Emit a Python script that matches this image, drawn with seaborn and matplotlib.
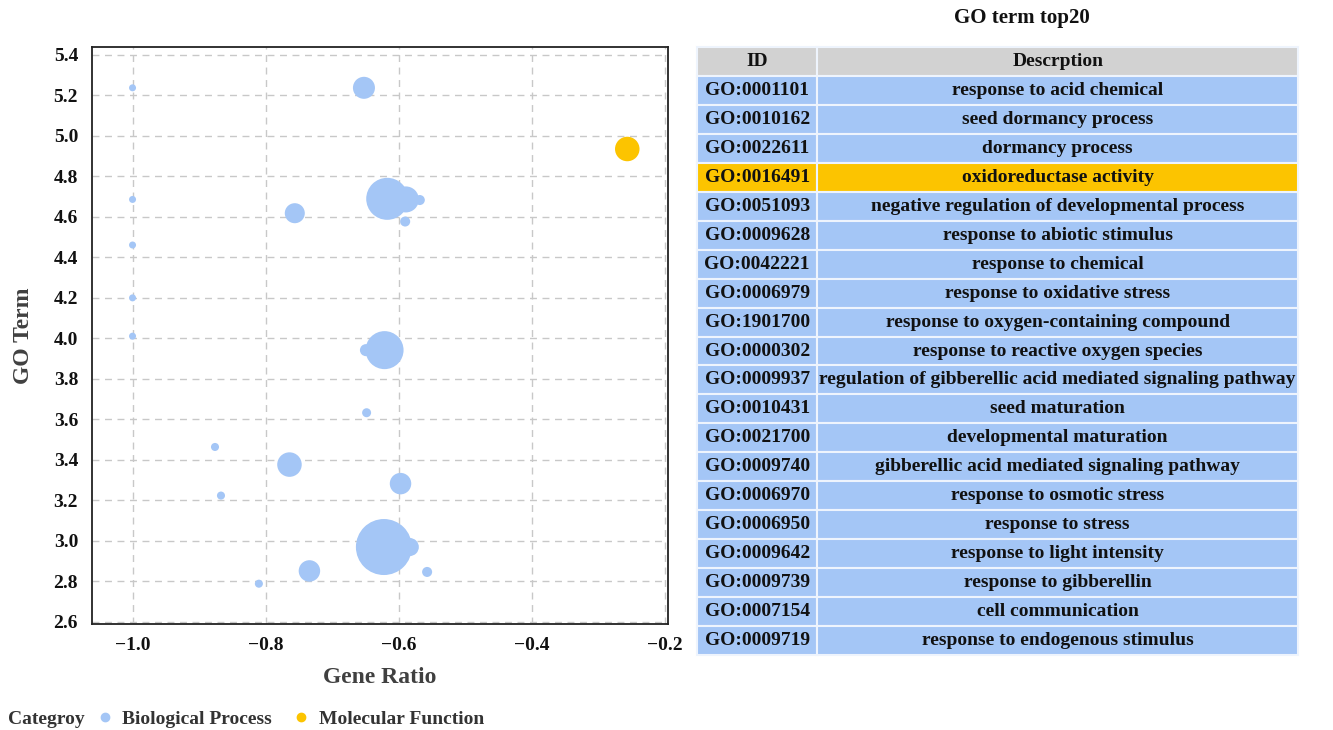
import matplotlib
matplotlib.use("Agg")
import matplotlib.pyplot as plt
from matplotlib.lines import Line2D
import seaborn as sns
import pandas as pd

# ---------------- data ----------------
gene_ratio = [-1.000, -0.652, -1.000, -0.756, -0.617, -0.589, -0.568, -0.590,
              -1.000, -1.000, -1.000, -0.621, -0.649, -0.648, -0.876, -0.764,
              -0.867, -0.597, -0.622, -0.583, -0.557, -0.734, -0.810, -0.256]
go_term = [5.237, 5.237, 4.686, 4.618, 4.689, 4.686, 4.683, 4.577,
           4.461, 4.200, 4.011, 3.942, 3.942, 3.633, 3.464, 3.377,
           3.224, 3.283, 2.970, 2.970, 2.847, 2.852, 2.789, 4.935]
count = [12, 121, 12, 100, 441, 169, 25, 25,
         12, 12, 12, 361, 36, 20, 16, 150,
         16, 115, 784, 81, 25, 115, 16, 150]
category = ["Biological Process"] * 23 + ["Molecular Function"]

table_ids = ["GO:0001101", "GO:0010162", "GO:0022611", "GO:0016491", "GO:0051093",
             "GO:0009628", "GO:0042221", "GO:0006979", "GO:1901700", "GO:0000302",
             "GO:0009937", "GO:0010431", "GO:0021700", "GO:0009740", "GO:0006970",
             "GO:0006950", "GO:0009642", "GO:0009739", "GO:0007154", "GO:0009719"]
table_desc = ["response to acid chemical", "seed dormancy process", "dormancy process",
              "oxidoreductase activity", "negative regulation of developmental process",
              "response to abiotic stimulus", "response to chemical",
              "response to oxidative stress", "response to oxygen-containing compound",
              "response to reactive oxygen species",
              "regulation of gibberellic acid mediated signaling pathway",
              "seed maturation", "developmental maturation",
              "gibberellic acid mediated signaling pathway", "response to osmotic stress",
              "response to stress", "response to light intensity",
              "response to gibberellin", "cell communication",
              "response to endogenous stimulus"]
table_cat = ["BP", "BP", "BP", "MF"] + ["BP"] * 16

x_ticks = [-1.0, -0.8, -0.6, -0.4, -0.2]
y_ticks = [2.6, 2.8, 3.0, 3.2, 3.4, 3.6, 3.8, 4.0, 4.2, 4.4, 4.6, 4.8, 5.0, 5.2, 5.4]

# ---------------- style ----------------
sns.set_style("white")
plt.rcParams["font.family"] = ["Liberation Serif", "DejaVu Serif"]
plt.rcParams["font.weight"] = "bold"
plt.rcParams["axes.labelweight"] = "bold"

BLUE = "#a4c6f6"
ORANGE = "#fcc400"
HEADER = "#d2d2d2"

df = pd.DataFrame({"Gene Ratio": gene_ratio, "GO Term": go_term,
                   "Count": count, "Category": category})

fig = plt.figure(figsize=(13.33, 7.30), dpi=100)
ax = fig.add_axes([0.069, 0.1452, 0.432, 0.790])

px2pt = 0.72
smin = (2 * 3.5 * px2pt) ** 2
smax = (2 * 28 * px2pt) ** 2
sns.scatterplot(data=df, x="Gene Ratio", y="GO Term", size="Count", hue="Category",
                palette={"Biological Process": BLUE, "Molecular Function": ORANGE},
                sizes=(smin, smax), size_norm=(12, 784), linewidth=0, alpha=1,
                legend=False, ax=ax, zorder=3)

ax.set_xlim(-1.061, -0.195)
ax.set_ylim(2.59, 5.437)
ax.set_xticks(x_ticks)
ax.set_yticks(y_ticks)
ax.set_xticklabels([f"{v:.1f}".replace("-", "\u2212") for v in x_ticks])
ax.set_yticklabels([f"{v:.1f}" for v in y_ticks])
ax.tick_params(axis="both", length=0, labelsize=14, colors="#111111")
ax.tick_params(axis="y", pad=10)
ax.tick_params(axis="x", pad=9)
ax.grid(True, color="#c8c8c8", linestyle=(0, (5, 4)), linewidth=1.0, zorder=0)
ax.set_axisbelow(True)
for sp in ax.spines.values():
    sp.set_visible(True)
    sp.set_color("#222222")
    sp.set_linewidth(1.3)
ax.set_xlabel("Gene Ratio", fontsize=17, color="#404040", labelpad=10)
ax.set_ylabel("GO Term", fontsize=17, color="#404040", labelpad=14)

# legend
fig.text(8 / 1333, 1 - 719 / 730, "Categroy", fontsize=14, fontweight="bold",
         color="#333333", ha="left", va="center")
handles = [Line2D([], [], linestyle="none", marker="o", markersize=6,
                  markerfacecolor=BLUE, markeredgecolor=BLUE),
           Line2D([], [], linestyle="none", marker="o", markersize=6,
                  markerfacecolor=ORANGE, markeredgecolor=ORANGE)]
labels = ["Biological Process", "Molecular Function"]
fig.legend(handles, labels, loc="center left",
           bbox_to_anchor=(97 / 1333, 1 - 719 / 730),
           ncol=2, frameon=False, fontsize=14, handlelength=0.8,
           handletextpad=0.5, columnspacing=1.1, labelcolor="#333333",
           borderaxespad=0, borderpad=0)

# table
tax = fig.add_axes([0.5229, 0.1027, 0.4509, 0.8329])
tax.axis("off")
cell_text = [[i, d] for i, d in zip(table_ids, table_desc)]
cell_colors = [[ORANGE if c == "MF" else BLUE] * 2 for c in table_cat]
tbl = tax.table(cellText=cell_text, colLabels=["ID", "Descrption"],
                cellColours=cell_colors, colColours=[HEADER, HEADER],
                colWidths=[0.2, 0.8], cellLoc="center", bbox=[0, 0, 1, 1])
tbl.auto_set_font_size(False)
tbl.set_fontsize(14)
long_row = table_desc.index("regulation of gibberellic acid mediated signaling pathway") + 1
for (r, c), cell in tbl.get_celld().items():
    cell.set_edgecolor("#eef4fd")
    cell.set_linewidth(1.5)
    cell.get_text().set_fontweight("bold")
    cell.get_text().set_color("#111111")
    if r == long_row and c == 1:
        cell._loc = "left"
        cell.PAD = 0.018
fig.text(1022 / 1333, 1 - 18 / 730, "GO term top20", fontsize=15, fontweight="bold",
         ha="center", va="center", color="#111111")

fig.savefig("out.png", dpi=100)
